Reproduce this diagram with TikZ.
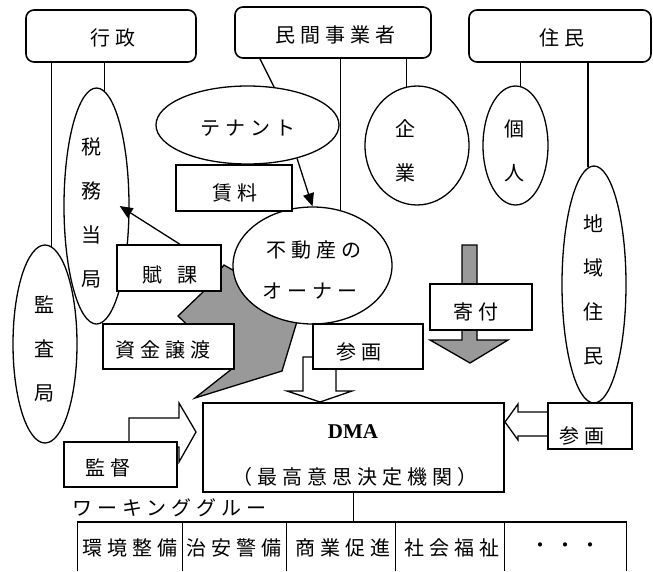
\documentclass[tikz,border=0pt]{standalone}
\usepackage{fontspec}
\setmainfont{Noto Sans CJK JP}
\newfontfamily\jpfont[LetterSpace=25]{Noto Sans CJK JP}
\newfontfamily\jpvfont{Noto Sans CJK JP}
\newfontfamily\dmafont{Liberation Serif}
\usetikzlibrary{shapes.geometric,arrows.meta}
\definecolor{arrowgray}{RGB}{153,153,153}
\newcommand{\jptxt}{\jpfont\fontsize{20}{24}\selectfont}
\newcommand{\jpvtxt}{\jpvfont\fontsize{20}{44}\selectfont}
\begin{document}
\begin{tikzpicture}[x=1pt,y=-1pt,
  every node/.style={inner sep=0pt},
  lw/.style={line width=1.3pt},
  topbox/.style={draw, line width=1.6pt, rounded corners=8pt, fill=white},
  plainbox/.style={draw, line width=1.3pt, fill=white},
  cell/.style={anchor=north, minimum height=49},
  oval/.style={draw, ellipse, line width=1.3pt},
  jt/.style={font=\jptxt},
  vt/.style={font=\jpvtxt, align=center},
  grayfill/.style={fill=arrowgray, draw=black, line width=1.3pt, line join=miter},
  hollow/.style={fill=white, draw=black, line width=1.3pt},
  tri/.style={-{Triangle[length=13pt,width=11pt]}, line width=1.3pt}
]
\useasboundingbox (0,0) rectangle (653,571);

% grey transfer arrow (資金譲渡)
\draw[grayfill] (224,265) -- (238,273) -- (302,305) -- (282,371) -- (195,398) -- (233,368) -- (178,316) -- (203,292) -- (212,280) -- cycle;
% grey donation arrow (寄付)
\draw[grayfill] (462,245) -- (477,245) -- (477,340) -- (508,340) -- (470,363) -- (430,340) -- (462,340) -- cycle;
% hollow arrows
\draw[hollow] (303,357) -- (336,357) -- (336,391) -- (352,391) -- (320,402) -- (287,391) -- (303,391) -- cycle;
\draw[hollow] (129,447) -- (129,418) -- (179,418) -- (179,403) -- (196,432) -- (179,462) -- (179,447) -- cycle;
\draw[hollow] (548,412) -- (518,412) -- (518,404) -- (505,422) -- (518,440) -- (518,436) -- (548,436) -- cycle;

% top boxes
\node[topbox, minimum width=170, minimum height=52] (gyosei) at (111,36) {};
\node[topbox, minimum width=196, minimum height=51] (minkan) at (333,32.5) {};
\node[topbox, minimum width=182, minimum height=52] (jumin) at (560,36) {};
\node[jt] (t-gyosei) at (112.5,38) {行政};
\node[jt] (t-minkan) at (335.5,35) {民間事業者};
\node[jt] (t-jumin) at (561.5,38) {住民};

% ellipses
\node[oval, minimum width=65, minimum height=236] (zeimu) at (96.5,206) {};
\node[oval, minimum width=64, minimum height=198] (kansa) at (45,344) {};
\node[oval, fill=white, minimum width=183, minimum height=78] (tenant) at (247.5,125) {};
\node[oval, fill=white, minimum width=104, minimum height=119] (kigyo) at (417,145.5) {};
\node[oval, fill=white, minimum width=65, minimum height=119] (kojin) at (515.5,145.5) {};
\node[oval, fill=white, minimum width=64, minimum height=237] (chiiki) at (594,284.5) {};

% connectors from top boxes
\draw[lw] (kansa.86 |- gyosei.south) -- (kansa.86);
\draw[lw] (zeimu.86 |- gyosei.south) -- (zeimu.86);
\draw[lw] ([xshift=-73pt]minkan.south) -- (tenant.55);
\coordinate (ownertop) at (340.4,211);
\draw[lw] (ownertop |- minkan.south) -- (ownertop);
\draw[lw] (kigyo.100 |- minkan.south) -- (kigyo.100);
\draw[lw] (kojin.85 |- jumin.south) -- (kojin.85);
\draw[lw] (chiiki.93 |- jumin.south) -- (chiiki.93);

\node[oval, fill=white, minimum width=159, minimum height=117] (owner) at (312.5,265.5) {};

% boxes
\node[plainbox, minimum width=116, minimum height=46] (chinryo) at (234,188) {};
\node[plainbox, minimum width=104, minimum height=46] (fuka) at (169,268) {};
\node[plainbox, minimum width=131, minimum height=45] (shikin) at (168.5,346.5) {};
\node[plainbox, minimum width=110, minimum height=45] (sanka) at (368,346.5) {};
\node[plainbox, minimum width=102, minimum height=46] (kifu) at (481,307) {};
\node[plainbox, minimum width=113, minimum height=45] (kantoku) at (120.5,464.5) {};
\node[plainbox, minimum width=84, minimum height=46] (sanka2) at (590,426) {};
\node[plainbox, minimum width=301, minimum height=89] (dma) at (353.5,447.5) {};

% arrows
\draw[tri] (tenant.-34) -- (owner.north);
\draw[tri] ([xshift=11pt]fuka.north) -- ([xshift=-10pt]zeimu.east);

% texts
\node[jt] (t-tenant) at (247.5,128) {テナント};
\node[jt] (t-chinryo) at (235,193) {賃料};
\node[jt] (t-owner1) at (313.5,250) {不動産の};
\node[jt] (t-owner2) at (310,291) {オーナー};
\node[jt] (t-fuka) at (169.5,275) {賦\hspace{15pt}課};
\node[jt] (t-shikin) at (162.5,350) {資金譲渡};
\node[jt] (t-sanka) at (359,352) {参画};
\node[jt] (t-kifu) at (476,312) {寄付};
\node[jt] (t-kantoku) at (108,468) {監督};
\node[jt] (t-sanka2) at (581.5,436) {参画};
\node[font=\dmafont\bfseries\fontsize{21}{24}\selectfont] (t-dma) at (353,432) {DMA};
\node[jt] (t-dma2) at (354.5,477) {（最高意思決定機関）};
\node[jt] (t-wg) at (169.5,508) {ワーキンググルー};

\node[vt] (t-zeimu) at (91.5,212.5) {税\\務\\当\\局};
\node[vt] (t-kansa) at (44,349) {監\\査\\局};
\node[vt] (t-chiiki) at (593,290) {地\\域\\住\\民};
\node[vt] (t-kigyo) at (405,151) {企\\業};
\node[vt] (t-kojin) at (514.5,150.5) {個\\人};

% working group cells (open at the lower edge of the page)
\node[cell, minimum width=104] (c1) at (130,522) {};
\node[cell, minimum width=104] (c2) at (234,522) {};
\node[cell, minimum width=109] (c3) at (340.5,522) {};
\node[cell, minimum width=109] (c4) at (449.5,522) {};
\node[cell, minimum width=122] (c5) at (565,522) {};
\draw[lw] (c1.south west) -- (c1.north west) -- (c5.north east) -- (c5.south east);
\draw[lw] (c1.north east) -- (c1.south east);
\draw[lw] (c2.north east) -- (c2.south east);
\draw[lw] (c3.north east) -- (c3.south east);
\draw[lw] (c4.north east) -- (c4.south east);
\node[jt] (t-c1) at (130,548) {環境整備};
\node[jt] (t-c2) at (234,548) {治安警備};
\node[jt] (t-c3) at (342.5,548) {商業促進};
\node[jt] (t-c4) at (451.5,548) {社会福祉};
\node[jt] (t-c5) at (565,548) {・・・};
\draw[lw] (dma.south) -- (dma.south |- c3.north);
\end{tikzpicture}
\end{document}
